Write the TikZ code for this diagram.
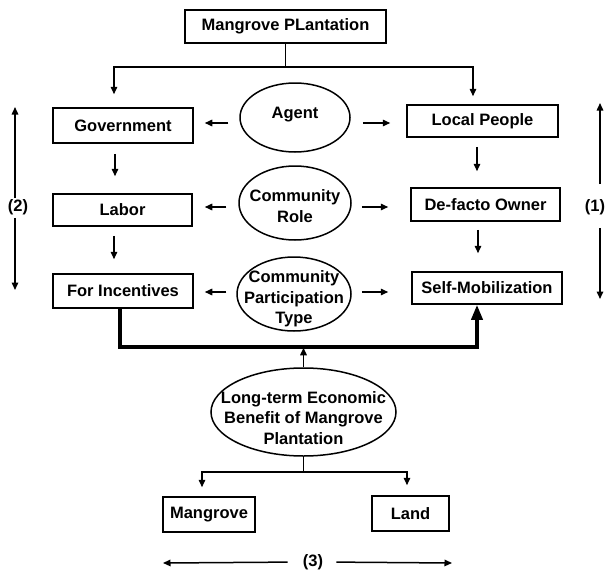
\documentclass[tikz,border=0pt]{standalone}
\usepackage{fontspec}
\setmainfont{Liberation Sans}
\usetikzlibrary{shapes.geometric,arrows.meta,calc}
\begin{document}
\begin{tikzpicture}[x=1pt,y=-1pt,
  txt/.style={font=\fontsize{16.5}{20.5}\selectfont\bfseries,align=center,inner sep=1pt},
  box/.style={txt,draw,line width=1.5pt,rectangle,inner sep=0pt},
  oval/.style={draw,line width=1.5pt,ellipse,inner sep=0pt},
  arr/.style={line width=1.5pt,-{Triangle[length=7.5pt,width=6.5pt]}},
  bigarr/.style={line width=3.5pt,-{Triangle[length=15pt,width=11pt]}},
  ln/.style={line width=1.5pt}]
\fill[white] (0,0) rectangle (608,576);
\useasboundingbox (0,0) rectangle (608,576);

% boxes
\node[box,minimum width=201pt,minimum height=33pt] (top) at (285.5,26.5) {Mangrove PLantation};
\node[box,minimum width=140pt,minimum height=35pt] (gov) at (123,125.5) {Government};
\node[box,minimum width=139pt,minimum height=32pt] (lab) at (122.5,210) {Labor};
\node[box,minimum width=140pt,minimum height=34pt] (inc) at (123,291) {For Incentives};
\node[box,minimum width=151pt,minimum height=32pt] (loc) at (482.5,121) {Local People};
\node[box,minimum width=149pt,minimum height=33pt] (own) at (485.5,204.5) {De-facto Owner};
\node[box,minimum width=150pt,minimum height=32pt] (self) at (487,288) {Self-Mobilization};
\node[box,minimum width=92pt,minimum height=35pt] (mang) at (209,514.5) {Mangrove};
\node[box,minimum width=77pt,minimum height=35pt] (land) at (410.5,513.5) {Land};

% ellipses
\node[oval,minimum width=110pt,minimum height=69pt] (agent) at (295,117.5) {};
\node[txt] (agentT) at (295,115) {Agent};
\node[oval,minimum width=112pt,minimum height=74pt] (role) at (295,203) {};
\node[txt] (roleT) at (295,206) {Community\\Role};
\node[oval,minimum width=114pt,minimum height=74pt] (type) at (294,294) {};
\node[txt] (typeT) at (294,299) {Community\\Participation\\Type};
\node[oval,minimum width=185pt,minimum height=88pt] (ben) at (303.5,412) {};
\node[txt] (benT) at (303.5,418) {Long-term Economic\\Benefit of Mangrove\\Plantation};

% side labels
\node[txt] (l2) at (18,207) {(2)};
\node[txt] (l1) at (595,207) {(1)};
\node[txt] (l3) at (313,562) {(3)};
\coordinate (e2t) at (15,107);
\coordinate (e2b) at (15,290);
\coordinate (e1t) at (600,103);
\coordinate (e1b) at (600,299);
\coordinate (e3l) at (163,563);
\coordinate (e3r) at (452,563);

% top split
\draw[arr,shorten >=13pt] (top.south) -- ++(0,23) -| ([xshift=-9pt]gov.north);
\draw[arr,shorten >=8pt] (top.south) -- ++(0,23) -| ([xshift=-9.5pt]loc.north);

% horizontal arrows from ellipses
\draw[arr,shorten <=11pt,shorten >=11pt] ([yshift=-5.5pt]agent.west) -- ([yshift=2.5pt]gov.east);
\draw[arr,shorten <=12pt,shorten >=16pt] ([yshift=-5.5pt]agent.east) -- ([yshift=-2pt]loc.west);
\draw[arr,shorten <=12pt,shorten >=12pt] ([yshift=-4pt]role.west) -- ([yshift=3pt]lab.east);
\draw[arr,shorten <=10pt,shorten >=22pt] ([yshift=-4pt]role.east) -- ([yshift=-2.5pt]own.west);
\draw[arr,shorten <=10pt,shorten >=11pt] ([yshift=2pt]type.west) -- ([yshift=-1pt]inc.east);
\draw[arr,shorten <=10pt,shorten >=23pt] ([yshift=2pt]type.east) -- ([yshift=-4pt]self.west);

% vertical arrows
\draw[arr,shorten <=10pt,shorten >=17pt] ([xshift=-8pt]gov.south) -- ([xshift=-7.5pt]lab.north);
\draw[arr,shorten <=9pt,shorten >=14pt] ([xshift=-8.5pt]lab.south) -- ([xshift=-9pt]inc.north);
\draw[arr,shorten <=9pt,shorten >=16pt] ([xshift=-5.5pt]loc.south) -- ([xshift=-8.5pt]own.north);
\draw[arr,shorten <=8pt,shorten >=18pt] ([xshift=-7.5pt]own.south) -- ([xshift=-9pt]self.north);

% thick connector
\draw[bigarr] ([xshift=-3pt]inc.south) -- ++(0,38) -| ([xshift=-10pt]self.south);
\draw[arr] (ben.north) -- ++(0,-19.5);

% bottom split
\draw[arr,shorten >=9pt] (ben.south) -- ++(0,15) -| ([xshift=-7pt]mang.north);
\draw[arr,shorten >=10pt] (ben.south) -- ++(0,15) -| ([xshift=-3.5pt]land.north);

% side arrows
\draw[arr] ([xshift=-3pt]l2.north) -- (e2t);
\draw[arr] ([xshift=-3pt,yshift=-2pt]l2.south) -- (e2b);
\draw[arr] ([xshift=5pt,yshift=-12pt]l1.south) -- (e1b);
\draw[arr] ([xshift=5pt,yshift=14pt]l1.north) -- (e1t);
\draw[arr,shorten <=14pt] (l3.west) -- (e3l);
\draw[arr,shorten <=12pt] (l3.east) -- (e3r);
\end{tikzpicture}
\end{document}
